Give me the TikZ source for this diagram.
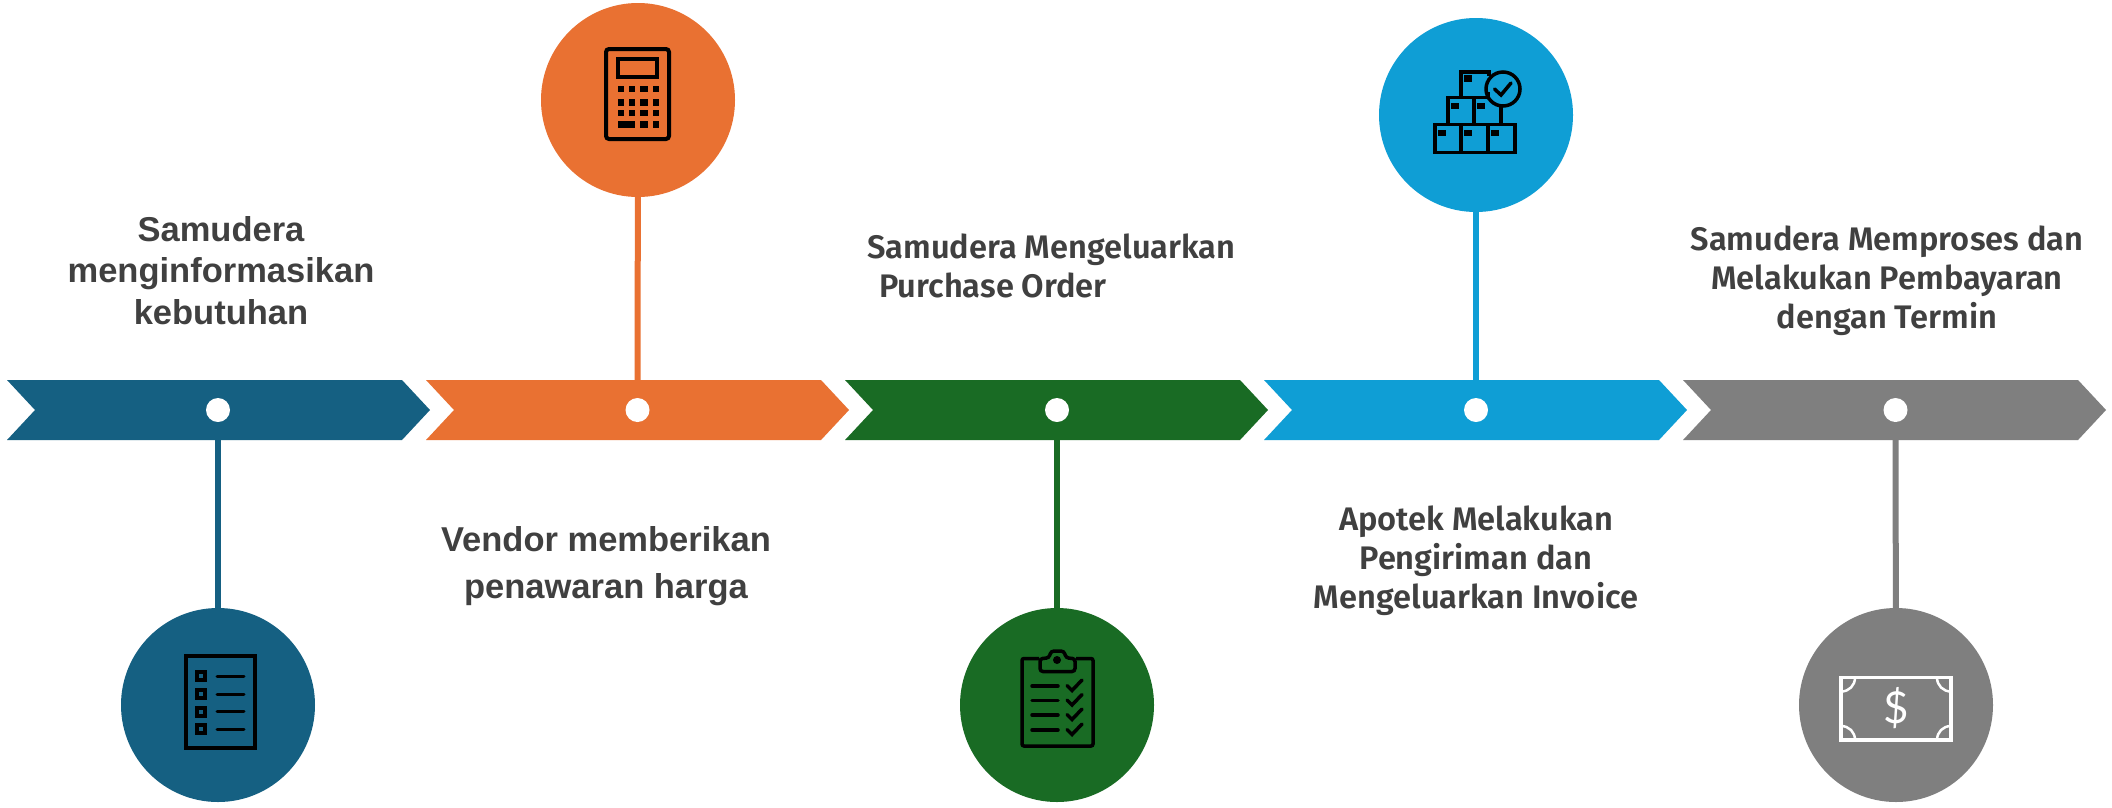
\documentclass[tikz,border=0pt]{standalone}
\usepackage{fontspec}
\setmainfont{Liberation Sans}
\newfontfamily\aptos{Fira Sans}[UprightFont=*,BoldFont=* SemiBold]
\newfontfamily\dollarfont{Lato}
\definecolor{cnavy}{HTML}{156082}
\definecolor{corange}{HTML}{E97132}
\definecolor{cgreen}{HTML}{196B24}
\definecolor{cblue}{HTML}{0F9ED5}
\definecolor{cgrey}{HTML}{7F7F7F}
\definecolor{ctext}{HTML}{404040}
\tikzset{
  dotnode/.style={circle,fill=white,draw=none,minimum size=24pt,inner sep=0pt},
  disc/.style={circle,draw=none,minimum size=194pt,inner sep=0pt},
  conn/.style={line width=6pt},
  armotext/.style={font=\fontsize{34.5}{41.7}\selectfont\bfseries,text=ctext,align=center,inner sep=0pt},
  aptotext/.style={font=\fontsize{32.6}{39}\selectfont\aptos\bfseries,text=ctext,align=center,inner sep=0pt},
  ico/.style={draw=black,line width=4pt,fill=none},
  icow/.style={draw=white,line width=3.5pt,fill=none}
}
\newcommand{\chev}[2]{\fill[#2] (#1,380) -- (#1+395,380) -- (#1+423,410) -- (#1+395,440) -- (#1,440) -- (#1+28,410) -- cycle;}
\begin{document}
\begin{tikzpicture}[x=1pt,y=-1pt]
\useasboundingbox (0,0) rectangle (2112,807);
\fill[white] (0,0) rectangle (2112,807);
% chevrons
\chev{7}{cnavy}
\chev{426}{corange}
\chev{845}{cgreen}
\chev{1264}{cblue}
\chev{1683}{cgrey}
% dots
\node[dotnode] (d1) at (218,410) {};
\node[dotnode] (d2) at (637.5,410) {};
\node[dotnode] (d3) at (1057,410) {};
\node[dotnode] (d4) at (1476,410) {};
\node[dotnode] (d5) at (1895.5,410) {};
% discs
\node[disc,fill=cnavy] (c1) at (218,705) {};
\node[disc,fill=corange] (c2) at (638,100) {};
\node[disc,fill=cgreen] (c3) at (1057,705) {};
\node[disc,fill=cblue] (c4) at (1476,115) {};
\node[disc,fill=cgrey] (c5) at (1896,705) {};
% connectors
\draw[conn,cnavy] (d1) -- (c1);
\draw[conn,corange] (d2) -- (c2);
\draw[conn,cgreen] (d3) -- (c3);
\draw[conn,cblue] (d4) -- (c4);
\draw[conn,cgrey] (d5) -- (c5);
% text
\node[armotext] (t1) at (221,270.5) {Samudera\\menginformasikan\\kebutuhan};
\node[armotext,font=\fontsize{34.5}{47}\selectfont\bfseries] (t2) at (606,566) {Vendor memberikan\\penawaran harga};
\node[aptotext,align=left,anchor=west] (t3) at (867,266) {Samudera Mengeluarkan\\\hspace*{12pt}Purchase Order};
\node[aptotext] (t4) at (1476,561) {Apotek Melakukan\\Pengiriman dan\\Mengeluarkan Invoice};
\node[aptotext] (t5) at (1887,281) {Samudera Memproses dan\\Melakukan Pembayaran\\dengan Termin};
% icon 1: list
\draw[ico] (186,656) rectangle (255,748);
\foreach \y in {676,694,711.5,729}{
  \draw[black,line width=4pt] (197,\y-4) rectangle (205,\y+4);
  \draw[black,line width=3pt,line cap=round] (217,\y) -- (244,\y);
}
% icon 2: calculator
\draw[ico,rounded corners=3pt] (606,49) rectangle (669,139);
\draw[ico] (618,59) rectangle (657,77);
\foreach \y/\h in {89/6.5,102/7,113/6.5}{
  \foreach \x/\w in {621/6.5,632/6.5,644/7.5,656/6.5}{
    \fill[black] (\x-\w/2,\y-\h/2) rectangle (\x+\w/2,\y+\h/2);
  }
}
\fill[black] (618,120.5) rectangle (635,127.5);
\fill[black] (640.25,120.5) rectangle (647.75,127.5);
\fill[black] (652.75,120.5) rectangle (659.25,127.5);
% icon 3: clipboard
\draw[ico,line width=3.5pt,rounded corners=2pt] (1039,658.5) -- (1022,658.5) -- (1022,746) -- (1093,746) -- (1093,658.5) -- (1076,658.5);
\draw[ico,line width=3.5pt,rounded corners=3pt] (1040,671.5) -- (1040,658.5) -- (1049,658) -- (1051,651) -- (1064,651) -- (1066,658) -- (1075,658.5) -- (1075,671.5) -- cycle;
\fill[black] (1057,660) circle (4pt);
\foreach \y in {686,700.5,715,730}{
  \draw[black,line width=3.5pt,line cap=round] (1032,\y) -- (1058,\y);
  \draw[black,line width=3.5pt,line cap=round] (1067,\y-0.5) -- (1072,\y+4.5) -- (1082,\y-6);
}
% icon 4: boxes
\draw[ico,line width=3.5pt] (1435,124.5) rectangle (1515,152.5);
\draw[ico,line width=3.5pt] (1461,124.5) -- (1461,152.5) (1488,124.5) -- (1488,152.5);
\draw[ico,line width=3.5pt] (1448,124.5) -- (1448,97.5) -- (1490,97.5) (1474,97.5) -- (1474,124.5) (1501,106) -- (1501,124.5);
\draw[ico,line width=3.5pt] (1461,97.5) -- (1461,72) -- (1489,72) -- (1489,76) (1488,92) -- (1488,97.5);
\foreach \x/\y/\w/\h in {1438/130/8/5.5,1464/130/8/5.5,1491/130/8/5.5,1451/103/8/6,1477/103/8/6,1464/75/8/7}{
  \fill[black] (\x,\y) rectangle ++(\w,\h);
}
\draw[ico,line width=3.5pt] (1503,89) circle (17pt);
\draw[black,line width=3.5pt,line cap=round] (1494.5,89) -- (1501,95) -- (1511,83);
% icon 5: banknote
\draw[icow] (1841,677.5) rectangle (1951,740);
\foreach \cx/\cy/\sx/\sy in {1841/677.5/1/1,1951/677.5/-1/1,1841/740/1/-1,1951/740/-1/-1}{
  \draw[icow,line width=2.5pt] (\cx,\cy+\sy*14) .. controls (\cx+\sx*8,\cy+\sy*14) and (\cx+\sx*14,\cy+\sy*8) .. (\cx+\sx*14,\cy);
}
\node[inner sep=0pt,text=white,font=\fontsize{44}{44}\selectfont\dollarfont] (dollar) at (1896,708) {\$};
\end{tikzpicture}
\end{document}
